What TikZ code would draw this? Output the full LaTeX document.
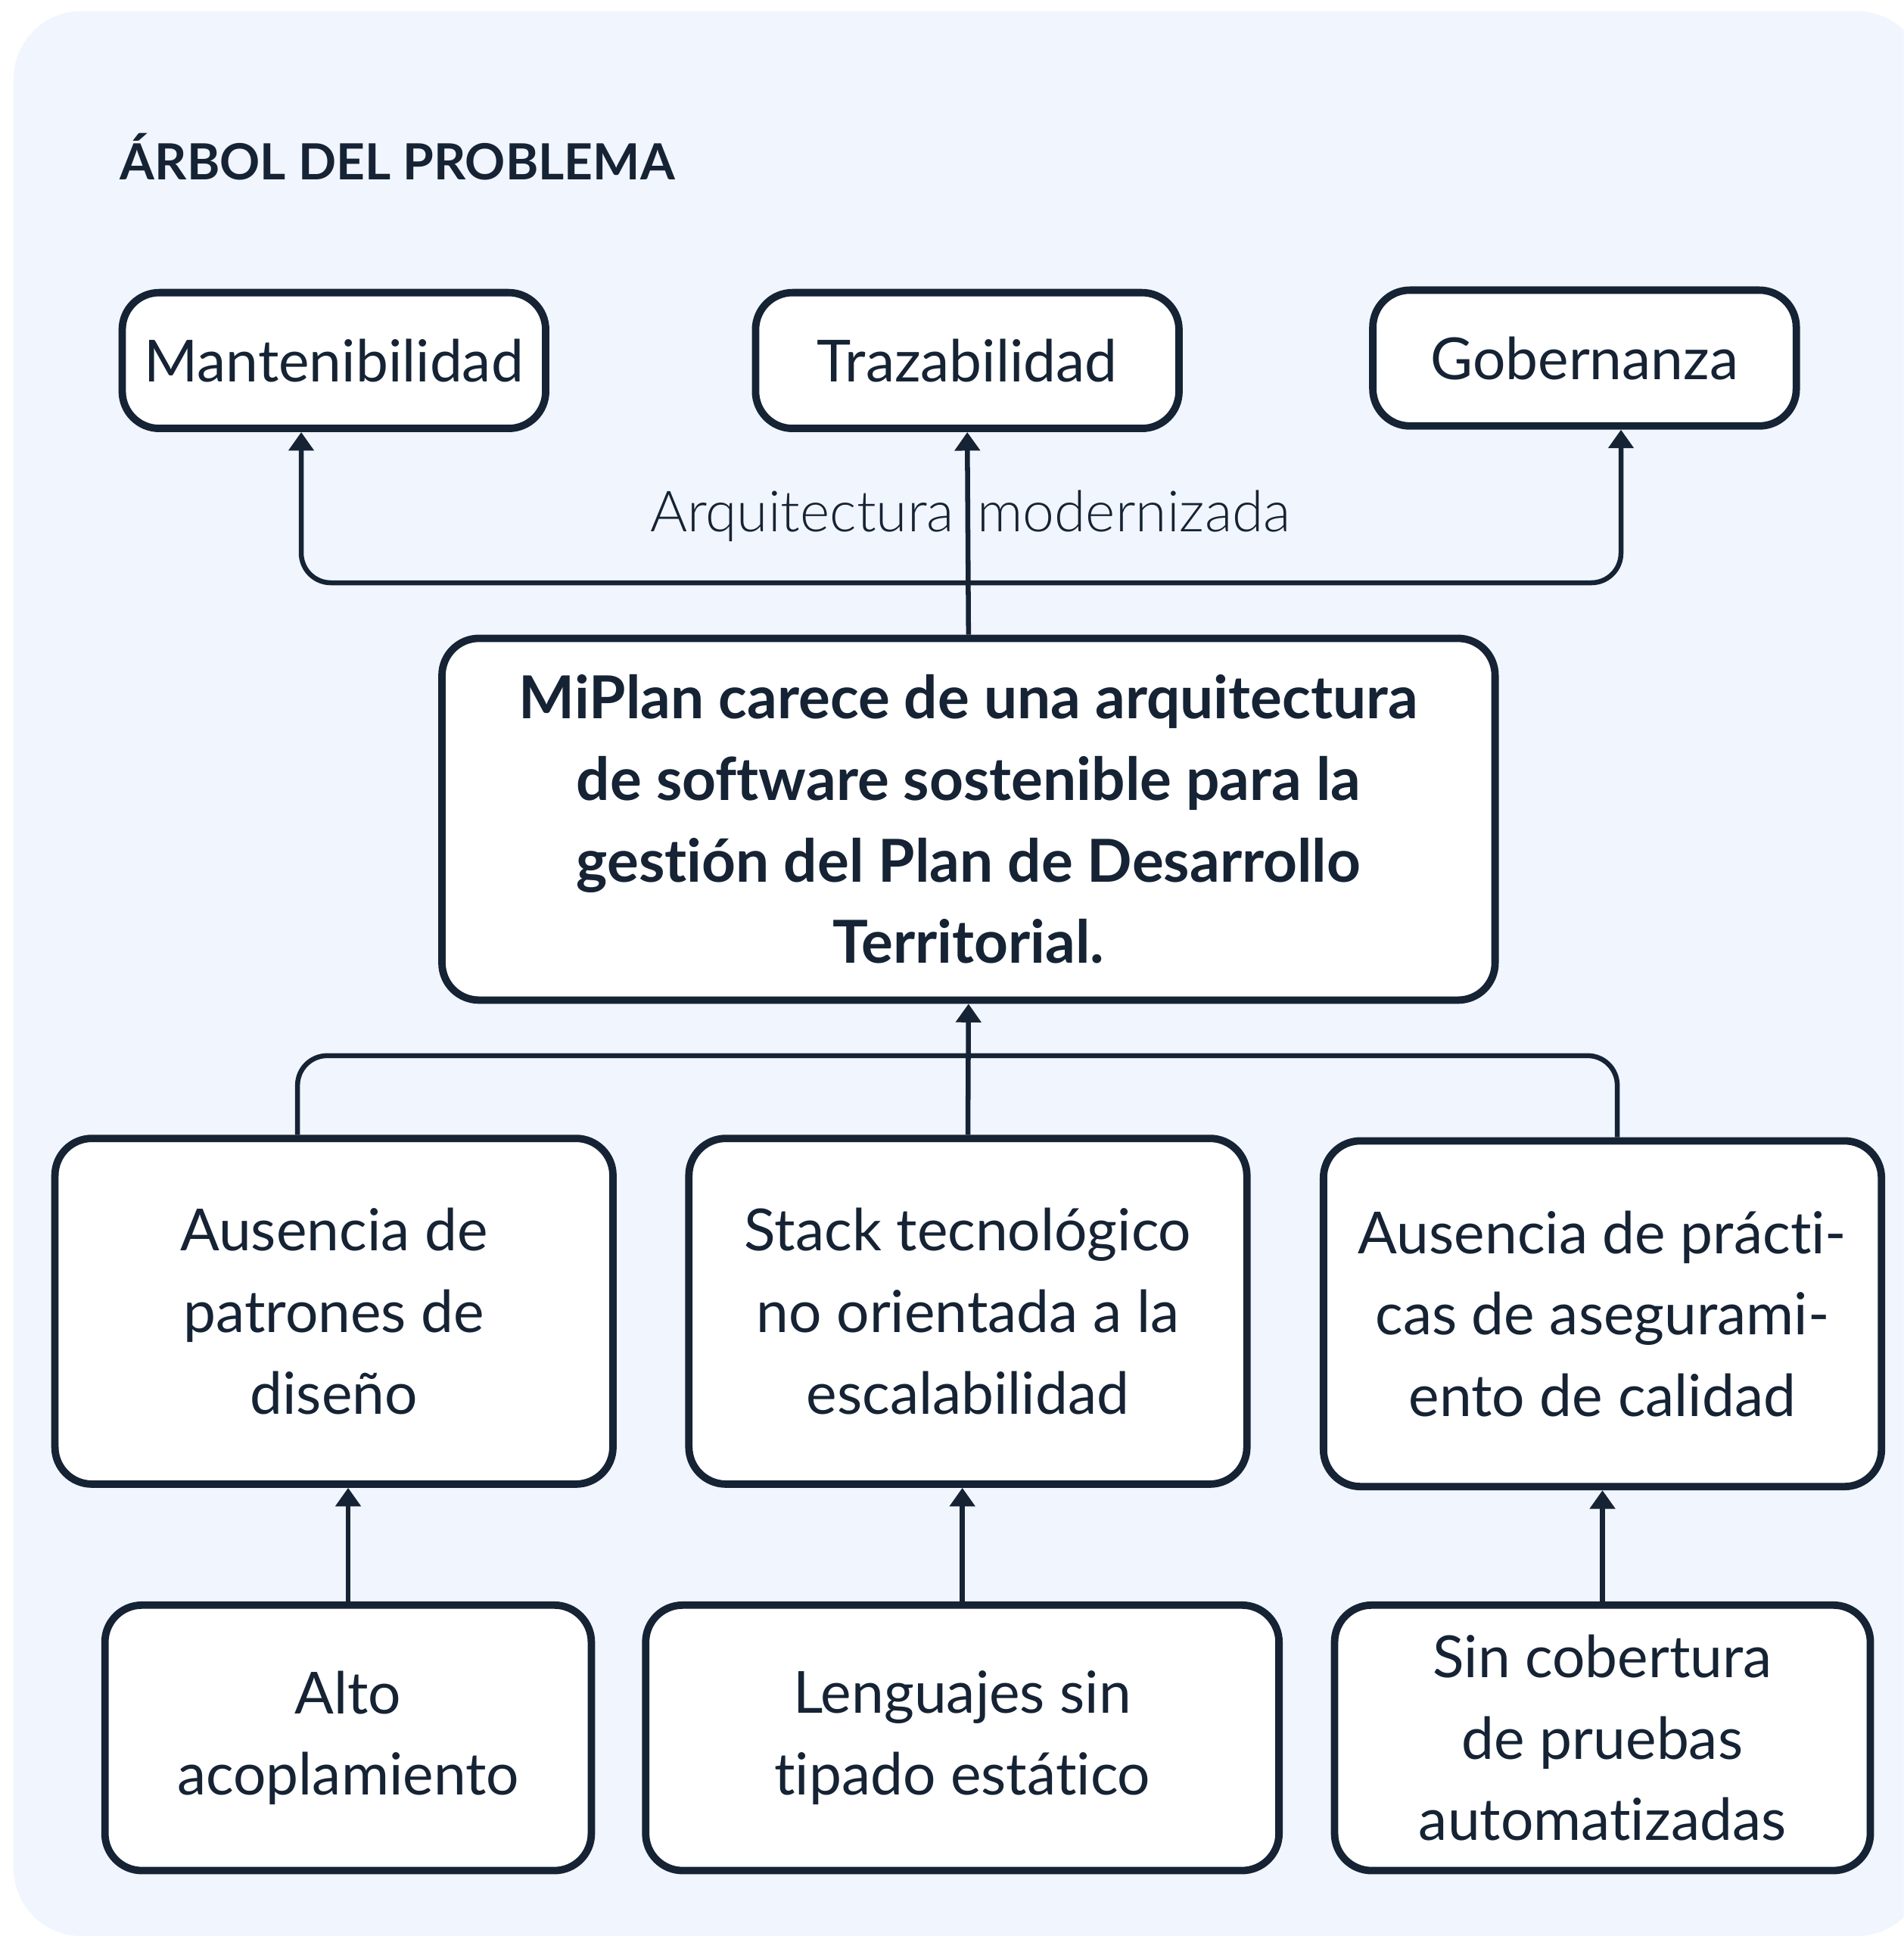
\documentclass[tikz,border=0pt]{standalone}
\usepackage{fontspec}
\setmainfont{Lato}[Ligatures=NoCommon]
\newfontfamily\lightfont{Lato Light}[Ligatures=NoCommon]
\usepackage{tikz}
\usetikzlibrary{arrows.meta,calc}
\definecolor{ink}{RGB}{21,35,52}
\definecolor{paper}{RGB}{241,245,253}
\tikzset{
        block/.style = {draw=ink, fill=white, line width=3pt,
            rounded corners=15pt, align=center, text=ink, inner sep=0pt,
            font=\fontsize{23.5}{33}\selectfont},
        effect/.style = {block, minimum width=171.5pt, minimum height=55pt},
        core/.style = {block, minimum width=426.5pt, minimum height=146.5pt,
            font=\bfseries\fontsize{24}{33}\selectfont},
        cause/.style = {block, minimum width=226pt, minimum height=140pt},
        subcause/.style = {block, minimum height=107.5pt},
        arrow/.style = {draw=ink, line width=2pt, -{Triangle[width=10pt,length=7.5pt]}},
        link/.style = {draw=ink, line width=2pt, rounded corners=12pt},
    }

\begin{document}
\begin{tikzpicture}[x=0.5pt,y=0.5pt,yscale=-1,xscale=1]
    \useasboundingbox (0,0) rectangle (1542,1568);
    \fill[white] (0,0) rectangle (1542,1568);
    \clip (0,0) rectangle (1542,1568);
    \fill[paper, rounded corners=27.5pt] (11,9) rectangle (1559,1568);

    % Text Node
    \node[anchor=west, inner sep=0pt, text=ink, font=\bfseries\fontsize{20.2}{25}\selectfont] (title) at (97,127) {ÁRBOL DEL PROBLEMA};

    % effects
    \node[effect] (effMant) at (270.5,292) {Mantenibilidad};
    \node[effect] (effTraz) at (783.5,292) {Trazabilidad};
    \node[effect] (effGob) at (1283.5,290) {Gobernanza};

    % central problem
    \node[core] (problem) at (784.5,663.5) {MiPlan carece de una arquitectura\\de software sostenible para la\\gestión del Plan de Desarrollo\\Territorial.};

    % causes
    \node[cause] (causePat) at (270.5,1062) {Ausencia de\\patrones de\\diseño};
    \node[cause] (causeStack) at (784,1062) {Stack tecnológico\\no orientada a la\\escalabilidad};
    \node[cause] (causeQA) at (1298,1064) {Ausencia de prácti-\\cas de asegurami-\\ento de calidad};

    % root causes
    \node[subcause, minimum width=197pt] (subAcop) at (282,1407.5) {Alto\\acoplamiento};
    \node[subcause, minimum width=256.5pt] (subTipado) at (779.5,1407.5) {Lenguajes sin\\tipado estático};
    \node[subcause, minimum width=217pt] (subPruebas) at (1298,1407.5) {Sin cobertura\\de pruebas\\automatizadas};

    %Straight Lines
    \coordinate (split) at (784,472);
    \coordinate (join) at (784,855);
    \draw[arrow] (problem.north) -- (effTraz.south);
    \draw[arrow, rounded corners=12pt] (split) -| ([xshift=-13.25pt]effMant.south);
    \draw[arrow, rounded corners=12pt] (split) -| ([xshift=14.75pt]effGob.south);

    \draw[arrow] (causeStack.north) -- (problem.south);
    \draw[link] (join) -| ([xshift=-14.75pt]causePat.north);
    \draw[link] (join) -| ([xshift=6pt]causeQA.north);

    \draw[arrow] (subAcop.north) -- (subAcop.north |- causePat.south);
    \draw[arrow] (subTipado.north) -- (subTipado.north |- causeStack.south);
    \draw[arrow] (subPruebas.north) -- (subPruebas.north |- causeQA.south);

    % Text Node
    \node[text=ink, font=\lightfont\fontsize{23}{25}\selectfont] (outcome) at (786,418) {Arquitectura\hspace{3pt} modernizada};

\end{tikzpicture}
\end{document}
